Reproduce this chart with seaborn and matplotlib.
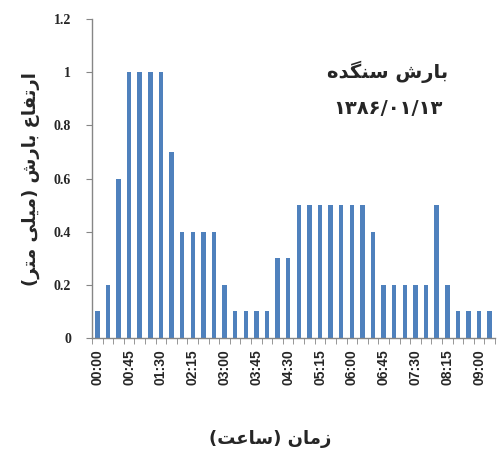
import numpy as np
import pandas as pd
import matplotlib
matplotlib.use("Agg")
import matplotlib.pyplot as plt
import seaborn as sns

# 15-minute rainfall depth (mm), 00:00 .. 09:15
times = ["00:00", "00:15", "00:30", "00:45", "01:00", "01:15", "01:30", "01:45",
         "02:00", "02:15", "02:30", "02:45", "03:00", "03:15", "03:30", "03:45",
         "04:00", "04:15", "04:30", "04:45", "05:00", "05:15", "05:30", "05:45",
         "06:00", "06:15", "06:30", "06:45", "07:00", "07:15", "07:30", "07:45",
         "08:00", "08:15", "08:30", "08:45", "09:00", "09:15"]
rain = [0.1, 0.2, 0.6, 1, 1, 1, 1, 0.7, 0.4, 0.4, 0.4, 0.4, 0.2, 0.1, 0.1, 0.1,
        0.1, 0.3, 0.3, 0.5, 0.5, 0.5, 0.5, 0.5, 0.5, 0.5, 0.4, 0.2, 0.2, 0.2,
        0.2, 0.2, 0.5, 0.2, 0.1, 0.1, 0.1, 0.1]
yticks = [0, 0.2, 0.4, 0.6, 0.8, 1, 1.2]
ytick_labels = ["0", "0.2", "0.4", "0.6", "0.8", "1", "1.2"]

# Persian strings in visual (left-to-right) order using presentation forms
title_main = "\uFEE9\uFEAA\uFB95\uFEE8\uFEB3 \uFEB5\uFEAD\uFE8E\uFE91"          # بارش سنگده
title_date = "\u06F1\u06F3\u06F8\u06F6/\u06F0\u06F1/\u06F1\u06F3"               # ۱۳۸۶/۰۱/۱۳
ylabel = ("(\uFEAE\uFE98\uFEE3 \uFBFD\uFEE0\uFBFF\uFEE3) "
          "\uFEB5\uFEAD\uFE8E\uFE91 \uFEC9\uFE8E\uFED4\uFE97\uFEAD\uFE8D")     # ارتفاع بارش (میلی متر)
xlabel = "(\uFE96\uFECB\uFE8E\uFEB3) \uFEE5\uFE8E\uFEE3\uFEAF"                  # زمان (ساعت)

df = pd.DataFrame({"time": times, "rain": rain})

sns.set_style("white")
plt.rcParams["font.family"] = ["DejaVu Sans"]

fig = plt.figure(figsize=(4.98, 4.66), dpi=100)
ax = fig.add_axes([0.1847, 0.2747, 0.8093, 0.6843])

sns.barplot(data=df, x="time", y="rain", order=times, color="#4F81BD",
            saturation=1, width=0.42, linewidth=0, ax=ax)

ax.set_xlim(-0.5, len(times) - 0.5)
ax.set_ylim(0, 1.2)

spine_color = "#868686"
for side in ("top", "right"):
    ax.spines[side].set_visible(False)
for side in ("left", "bottom"):
    ax.spines[side].set_color(spine_color)
    ax.spines[side].set_linewidth(1.0)

ax.set_yticks(yticks)
ax.set_yticklabels(ytick_labels, fontfamily="Liberation Serif",
                   fontweight="bold", fontsize=10)
ax.tick_params(axis="y", direction="out", length=4, color=spine_color, pad=11, left=True)

major = list(range(0, len(times), 3))
ax.set_xticks(major)
ax.set_xticklabels([times[i] for i in major], rotation=90,
                   fontfamily="Liberation Sans", fontweight="bold", fontsize=10)
ax.set_xticks(np.arange(-0.5, len(times), 1), minor=True)
ax.tick_params(axis="x", which="major", length=0, pad=8)
ax.tick_params(axis="x", which="minor", direction="out", length=4,
               color=spine_color, bottom=True)

ax.set_xlabel("")
ax.set_ylabel("")

fig.text(0.542, 0.057, xlabel, ha="center", va="center", fontsize=13,
         fontweight="bold", family=["DejaVu Sans"])
fig.text(0.062, 0.615, ylabel, ha="center", va="center", rotation=90,
         fontsize=13, fontweight="bold", family=["DejaVu Sans"])

ax.text(0.734, 0.834, title_main, transform=ax.transAxes, ha="center",
        va="center", fontsize=14, fontweight="bold", family=["DejaVu Sans"])
ax.text(0.734, 0.72, title_date, transform=ax.transAxes, ha="center",
        va="center", fontsize=14, fontweight="bold", family=["DejaVu Sans"])

fig.savefig("out.png", dpi=100)
